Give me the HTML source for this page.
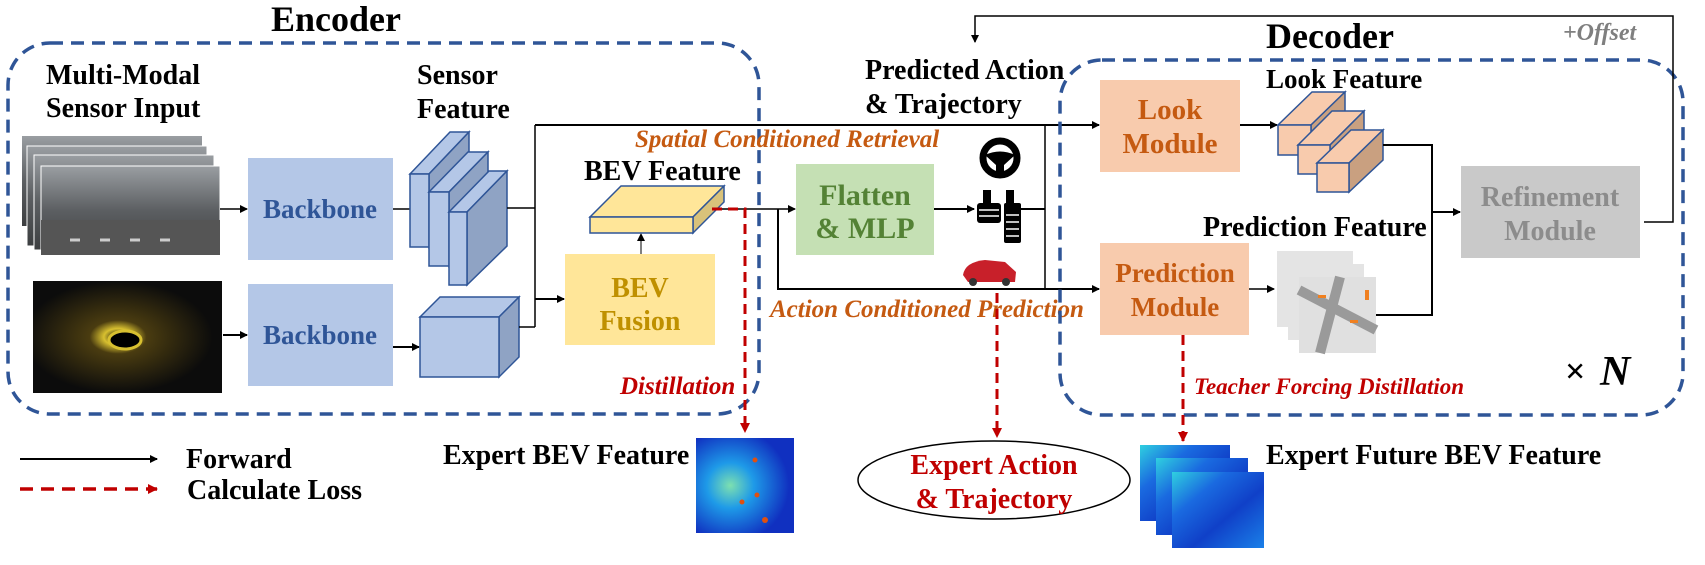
<!DOCTYPE html>
<html><head><meta charset="utf-8"><style>
html,body{margin:0;padding:0;background:#fff}
svg{display:block}
text{font-family:"Liberation Serif",serif;font-weight:bold}
</style></head><body>
<svg width="1705" height="565" viewBox="0 0 1705 565" xmlns="http://www.w3.org/2000/svg">
<defs>
<marker id="a" markerWidth="8" markerHeight="8" refX="7" refY="4" orient="auto" markerUnits="userSpaceOnUse"><path d="M0,0 L8,4 L0,8 z" fill="#000"/></marker>
<marker id="r" markerWidth="10" markerHeight="10" refX="9" refY="5" orient="auto" markerUnits="userSpaceOnUse"><path d="M0,0 L10,5 L0,10 z" fill="#c00000"/></marker>
<linearGradient id="heat" x1="0" y1="0" x2="1" y2="1"><stop offset="0" stop-color="#2fd0e0"/><stop offset="0.3" stop-color="#1a6ae0"/><stop offset="0.6" stop-color="#1040c8"/><stop offset="1" stop-color="#1a80e8"/></linearGradient>
<radialGradient id="heat2" cx="0.35" cy="0.5" r="0.6"><stop offset="0" stop-color="#7de0b0"/><stop offset="0.4" stop-color="#1e9ae8"/><stop offset="1" stop-color="#1030c0"/></radialGradient>
<linearGradient id="photo" x1="0" y1="0" x2="0" y2="1"><stop offset="0" stop-color="#9a9ea2"/><stop offset="0.5" stop-color="#5c5f62"/><stop offset="1" stop-color="#3c3e40"/></linearGradient>
<radialGradient id="lid" cx="0.45" cy="0.5" r="0.5"><stop offset="0" stop-color="#000"/><stop offset="0.15" stop-color="#d8c030"/><stop offset="0.3" stop-color="#4a3c10"/><stop offset="1" stop-color="#0c0c0c"/></radialGradient>
</defs>

<!-- Encoder -->
<text x="271" y="31" font-size="36">Encoder</text>
<rect x="8" y="43" width="751" height="371" rx="42" fill="none" stroke="#2f5597" stroke-width="3.5" stroke-dasharray="13,8"/>
<text x="46" y="84" font-size="28">Multi-Modal</text>
<text x="46" y="117" font-size="28">Sensor Input</text>
<text x="417" y="84" font-size="28">Sensor</text>
<text x="417" y="118" font-size="28">Feature</text>

<!-- camera stack -->
<rect x="22" y="136" width="180" height="90" fill="url(#photo)"/>
<rect x="27" y="146" width="180" height="100" fill="url(#photo)" stroke="#fff"/>
<rect x="34" y="155" width="180" height="95" fill="url(#photo)" stroke="#fff"/>
<rect x="41" y="166" width="179" height="89" fill="url(#photo)" stroke="#fff"/>
<rect x="41" y="220" width="179" height="35" fill="#555"/>
<g stroke="#ccc" stroke-width="3"><line x1="70" y1="240" x2="80" y2="240"/><line x1="100" y1="240" x2="110" y2="240"/><line x1="130" y1="240" x2="140" y2="240"/><line x1="160" y1="240" x2="170" y2="240"/></g>
<!-- lidar -->
<rect x="33" y="281" width="189" height="112" fill="url(#lid)"/>
<ellipse cx="125" cy="340" rx="16" ry="9" fill="#000" stroke="#d8c030" stroke-width="3"/>

<!-- backbones -->
<rect x="248" y="158" width="145" height="102" fill="#b4c7e7"/>
<text x="320" y="218" font-size="27" fill="#2f5597" text-anchor="middle">Backbone</text>
<rect x="248" y="284" width="145" height="102" fill="#b4c7e7"/>
<text x="320" y="344" font-size="27" fill="#2f5597" text-anchor="middle">Backbone</text>
<line x1="220" y1="209" x2="247" y2="209" stroke="#000" stroke-width="1.5" marker-end="url(#a)"/>
<line x1="223" y1="335" x2="247" y2="335" stroke="#000" stroke-width="2" marker-end="url(#a)"/>
<line x1="393" y1="209" x2="428" y2="209" stroke="#000" stroke-width="1.5" marker-end="url(#a)"/>
<line x1="393" y1="347" x2="419" y2="347" stroke="#000" stroke-width="2" marker-end="url(#a)"/>

<!-- sensor feature prisms -->
<g stroke="#2f5597" stroke-width="1.5">
<polygon points="410,174 429,174 469,132 450,132" fill="#b4c7e7"/><polygon points="429,174 469,132 469,206 429,247" fill="#8fa3c4"/><rect x="410" y="174" width="19" height="73" fill="#b4c7e7"/>
<polygon points="429,192 449,192 488,152 468,152" fill="#b4c7e7"/><polygon points="449,192 488,152 488,226 449,266" fill="#8fa3c4"/><rect x="429" y="192" width="20" height="74" fill="#b4c7e7"/>
<polygon points="449,212 467,212 507,171 489,171" fill="#b4c7e7"/><polygon points="467,212 507,171 507,246 467,285" fill="#8fa3c4"/><rect x="449" y="212" width="18" height="73" fill="#b4c7e7"/>
<polygon points="420,317 499,317 519,297 440,297" fill="#b4c7e7"/><polygon points="499,317 519,297 519,357 499,377" fill="#8fa3c4"/><rect x="420" y="317" width="79" height="60" fill="#b4c7e7"/>
</g>
<polyline points="507,208 535,208" fill="none" stroke="#000" stroke-width="1.5"/>
<polyline points="519,327 535,327" fill="none" stroke="#000" stroke-width="1.5"/>
<line x1="535" y1="125" x2="535" y2="327" stroke="#000" stroke-width="1.5"/>
<line x1="535" y1="299" x2="564" y2="299" stroke="#000" stroke-width="2" marker-end="url(#a)"/>
<line x1="535" y1="125" x2="1099" y2="125" stroke="#000" stroke-width="2" marker-end="url(#a)"/>

<!-- BEV fusion -->
<rect x="565" y="254" width="150" height="91" fill="#ffe699"/>
<text x="640" y="297" font-size="28" fill="#bf9000" text-anchor="middle">BEV</text>
<text x="640" y="330" font-size="28" fill="#bf9000" text-anchor="middle">Fusion</text>
<line x1="641" y1="254" x2="641" y2="234" stroke="#000" stroke-width="1" marker-end="url(#a)"/>
<text x="584" y="180" font-size="28">BEV Feature</text>
<g stroke="#2f5597" stroke-width="1.5" fill="#ffe699">
<polygon points="590,217 693,217 724,186 621,186"/><polygon points="693,217 724,186 724,202 693,233" fill="#d9c27a"/><rect x="590" y="217" width="103" height="16"/>
</g>
<line x1="712" y1="209" x2="795" y2="209" stroke="#000" stroke-width="1.5" marker-end="url(#a)"/>
<polyline points="778,209 778,289 1099,289" fill="none" stroke="#000" stroke-width="2" marker-end="url(#a)"/>
<path d="M712,209 L745,209 L745,432" fill="none" stroke="#c00000" stroke-width="3" stroke-dasharray="10,6" marker-end="url(#r)"/>
<text x="635" y="147" font-size="25" font-style="italic" fill="#c55a11">Spatial Conditioned Retrieval</text>
<text x="770" y="317" font-size="25" font-style="italic" fill="#c55a11">Action Conditioned Prediction</text>
<text x="620" y="394" font-size="25" font-style="italic" fill="#c00000">Distillation</text>
<text x="443" y="464" font-size="28">Expert BEV Feature</text>
<rect x="696" y="438" width="98" height="95" fill="url(#heat2)"/>
<g fill="#e05010"><circle cx="755" cy="460" r="2.5"/><circle cx="757" cy="495" r="2.5"/><circle cx="742" cy="502" r="2.5"/><circle cx="765" cy="520" r="3"/></g>

<!-- legend -->
<line x1="20" y1="459" x2="157" y2="459" stroke="#000" stroke-width="2" marker-end="url(#a)"/>
<text x="186" y="468" font-size="28">Forward</text>
<line x1="20" y1="489" x2="157" y2="489" stroke="#c00000" stroke-width="3.5" stroke-dasharray="13,8" marker-end="url(#r)"/>
<text x="187" y="499" font-size="28">Calculate Loss</text>

<!-- Flatten -->
<rect x="796" y="164" width="138" height="91" fill="#c5e0b4"/>
<text x="865" y="205" font-size="30" fill="#548235" text-anchor="middle">Flatten</text>
<text x="865" y="238" font-size="30" fill="#548235" text-anchor="middle">&amp; MLP</text>
<line x1="934" y1="209" x2="974" y2="209" stroke="#000" stroke-width="2" marker-end="url(#a)"/>
<line x1="1021" y1="209" x2="1045" y2="209" stroke="#000" stroke-width="2"/>
<line x1="1045" y1="125" x2="1045" y2="289" stroke="#000" stroke-width="1.5"/>
<!-- icons -->
<circle cx="1000" cy="158" r="17" fill="none" stroke="#000" stroke-width="7"/>
<path d="M985,155 Q1000,148 1015,155 L1004,165 L1004,176 L996,176 L996,165 z" fill="#000"/>
<rect x="983" y="190" width="8" height="14" fill="#000"/><rect x="1006" y="190" width="8" height="14" fill="#000"/>
<rect x="977" y="203" width="24" height="20" rx="3" fill="#000"/><rect x="1004" y="203" width="17" height="40" rx="2" fill="#000"/>
<g stroke="#fff" stroke-width="1.5"><line x1="979" y1="210" x2="999" y2="210"/><line x1="979" y1="216" x2="999" y2="216"/><line x1="1006" y1="215" x2="1019" y2="215"/><line x1="1006" y1="222" x2="1019" y2="222"/><line x1="1006" y1="229" x2="1019" y2="229"/><line x1="1006" y1="236" x2="1019" y2="236"/></g>
<path d="M963,275 Q965,262 985,260 L1005,262 L1016,272 L1015,282 L968,282 z" fill="#c8202a"/>
<circle cx="973" cy="282" r="4" fill="#333"/><circle cx="1006" cy="282" r="4" fill="#333"/>
<text x="865" y="79" font-size="28">Predicted Action</text>
<text x="865" y="113" font-size="28">&amp; Trajectory</text>
<path d="M997,293 L997,437" fill="none" stroke="#c00000" stroke-width="3" stroke-dasharray="10,6" marker-end="url(#r)"/>
<ellipse cx="994" cy="480" rx="136" ry="39" fill="#fff" stroke="#000" stroke-width="1.5"/>
<text x="994" y="474" font-size="28" fill="#c00000" text-anchor="middle">Expert Action</text>
<text x="994" y="508" font-size="28" fill="#c00000" text-anchor="middle">&amp; Trajectory</text>

<!-- Decoder -->
<text x="1266" y="48" font-size="36">Decoder</text>
<text x="1563" y="40" font-size="24" font-style="italic" font-weight="normal" fill="#7f7f7f">+Offset</text>
<rect x="1060" y="60" width="623" height="355" rx="42" fill="none" stroke="#2f5597" stroke-width="3.5" stroke-dasharray="13,8"/>
<polyline points="1644,222 1673,222 1673,16 975,16 975,42" fill="none" stroke="#000" stroke-width="1.5" marker-end="url(#a)"/>

<rect x="1100" y="80" width="140" height="92" fill="#f8cbad"/>
<text x="1170" y="119" font-size="29" fill="#c55a11" text-anchor="middle">Look</text>
<text x="1170" y="153" font-size="29" fill="#c55a11" text-anchor="middle">Module</text>
<rect x="1100" y="243" width="149" height="92" fill="#f8cbad"/>
<text x="1175" y="282" font-size="27" fill="#c55a11" text-anchor="middle">Prediction</text>
<text x="1175" y="316" font-size="27" fill="#c55a11" text-anchor="middle">Module</text>
<text x="1266" y="88" font-size="27">Look Feature</text>
<text x="1203" y="236" font-size="28">Prediction Feature</text>
<line x1="1240" y1="125" x2="1277" y2="125" stroke="#000" stroke-width="2" marker-end="url(#a)"/>
<g stroke="#2f5597" stroke-width="1.5">
<polygon points="1278,125 1311,125 1345,92 1312,92" fill="#f8cbad"/><polygon points="1311,125 1345,92 1345,122 1311,155" fill="#c9a080"/><rect x="1278" y="125" width="33" height="30" fill="#f8cbad"/>
<polygon points="1298,145 1330,145 1364,111 1332,111" fill="#f8cbad"/><polygon points="1330,145 1364,111 1364,141 1330,174" fill="#c9a080"/><rect x="1298" y="145" width="32" height="29" fill="#f8cbad"/>
<polygon points="1317,163 1349,163 1383,130 1351,130" fill="#f8cbad"/><polygon points="1349,163 1383,130 1383,160 1349,192" fill="#c9a080"/><rect x="1317" y="163" width="32" height="29" fill="#f8cbad"/>
</g>
<polyline points="1383,145 1432,145 1432,315 1376,315" fill="none" stroke="#000" stroke-width="2"/>
<line x1="1432" y1="212" x2="1460" y2="212" stroke="#000" stroke-width="2" marker-end="url(#a)"/>
<line x1="1249" y1="289" x2="1274" y2="289" stroke="#000" stroke-width="1.5" marker-end="url(#a)"/>
<g>
<rect x="1277" y="251" width="76" height="76" fill="#e4e4e4"/>
<rect x="1288" y="264" width="76" height="76" fill="#e4e4e4"/>
<rect x="1299" y="277" width="77" height="76" fill="#e0e0e0"/>
<path d="M1299,290 L1376,330 M1340,277 L1320,353" stroke="#9a9a9a" stroke-width="10"/>
<g fill="#f08020"><rect x="1318" y="295" width="8" height="3"/><rect x="1350" y="320" width="8" height="3"/><rect x="1365" y="290" width="4" height="10"/></g>
</g>

<rect x="1461" y="166" width="179" height="92" fill="#c9c9c9"/>
<text x="1550" y="206" font-size="28" fill="#8c8c8c" text-anchor="middle">Refinement</text>
<text x="1550" y="240" font-size="28" fill="#8c8c8c" text-anchor="middle">Module</text>

<path d="M1183,335 L1183,441" fill="none" stroke="#c00000" stroke-width="3" stroke-dasharray="10,6" marker-end="url(#r)"/>
<text x="1194" y="394" font-size="23" font-style="italic" fill="#c00000">Teacher Forcing Distillation</text>
<text x="1565" y="383" font-size="36" font-weight="normal">×</text>
<text x="1600" y="385" font-size="42" font-style="italic">N</text>

<rect x="1140" y="445" width="90" height="76" fill="url(#heat)"/>
<rect x="1156" y="458" width="92" height="77" fill="url(#heat)"/>
<rect x="1172" y="472" width="92" height="76" fill="url(#heat)"/>
<text x="1266" y="464" font-size="28">Expert Future BEV Feature</text>
</svg>
</body></html>
